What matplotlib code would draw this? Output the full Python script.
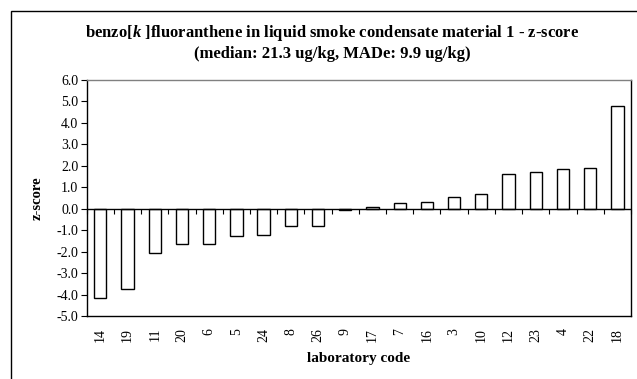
import matplotlib
matplotlib.use("Agg")
import matplotlib.pyplot as plt
from matplotlib.patches import Rectangle

labs = ["14", "19", "11", "20", "6", "5", "24", "8", "26", "9",
        "17", "7", "16", "3", "10", "12", "23", "4", "22", "18"]
zscores = [-4.15, -3.73, -2.08, -1.65, -1.65, -1.29, -1.23, -0.79, -0.79, -0.05,
           0.08, 0.27, 0.33, 0.56, 0.70, 1.62, 1.73, 1.85, 1.91, 4.80]
yticks = [-5, -4, -3, -2, -1, 0, 1, 2, 3, 4, 5, 6]

plt.rcParams['font.family'] = ['Liberation Serif', 'DejaVu Serif']
plt.rcParams['mathtext.fontset'] = 'custom'
plt.rcParams['mathtext.it'] = 'Liberation Serif:italic:bold'
plt.rcParams['mathtext.rm'] = 'Liberation Serif:bold'

W, H = 637, 379
fig = plt.figure(figsize=(W / 100, H / 100), dpi=100)
ax = fig.add_axes([86.7 / W, (H - 316) / H, (631 - 86.7) / W, (316 - 80) / H])

x = list(range(len(labs)))
ax.bar(x, zscores, width=0.45, color='white', edgecolor='black', linewidth=1.0, zorder=3)
ax.axhline(0, color='black', linewidth=1.0, zorder=4)

ax.set_xlim(-0.5, len(labs) - 0.5)
ax.set_ylim(-5, 6)
ax.set_yticks(yticks)
ax.set_yticklabels([f"{v:.1f}" for v in yticks], fontsize=10)
ax.tick_params(axis='y', direction='out', length=4, width=0.8, pad=2)

ax.set_xticks(x)
ax.set_xticklabels(labs, rotation=90, fontsize=10)
ax.tick_params(axis='x', length=0, pad=8.5)

sec = ax.secondary_xaxis(0, transform=ax.transData)
sec.set_xticks([i - 0.5 for i in range(len(labs) + 1)])
sec.set_xticklabels([])
sec.tick_params(direction='out', length=3.5, width=0.8)
sec.spines['bottom'].set_visible(False)

for s in ['left', 'bottom', 'right']:
    ax.spines[s].set_color('black')
    ax.spines[s].set_linewidth(1.0)
ax.spines['top'].set_color('#808080')
ax.spines['top'].set_linewidth(1.0)

ax.set_xlabel('laboratory code', fontsize=11, fontweight='bold', labelpad=7)
ax.set_ylabel('z-score', fontsize=10.5, fontweight='bold', labelpad=9)

fig.text(0.521, 1 - 33 / H, r'benzo[$\mathit{k}$ ]fluoranthene in liquid smoke condensate material 1 - z-score',
         ha='center', va='center', fontsize=12, fontweight='bold')
fig.text(0.521, 1 - 54 / H, '(median: 21.3 ug/kg, MADe: 9.9 ug/kg)',
         ha='center', va='center', fontsize=12, fontweight='bold')

fig.patches.append(Rectangle((11 / W, -0.2), 1.2, (H - 11) / H + 0.2, transform=fig.transFigure,
                             fill=False, edgecolor='black', linewidth=1.0, clip_on=False))

fig.savefig('out.png', dpi=100)
